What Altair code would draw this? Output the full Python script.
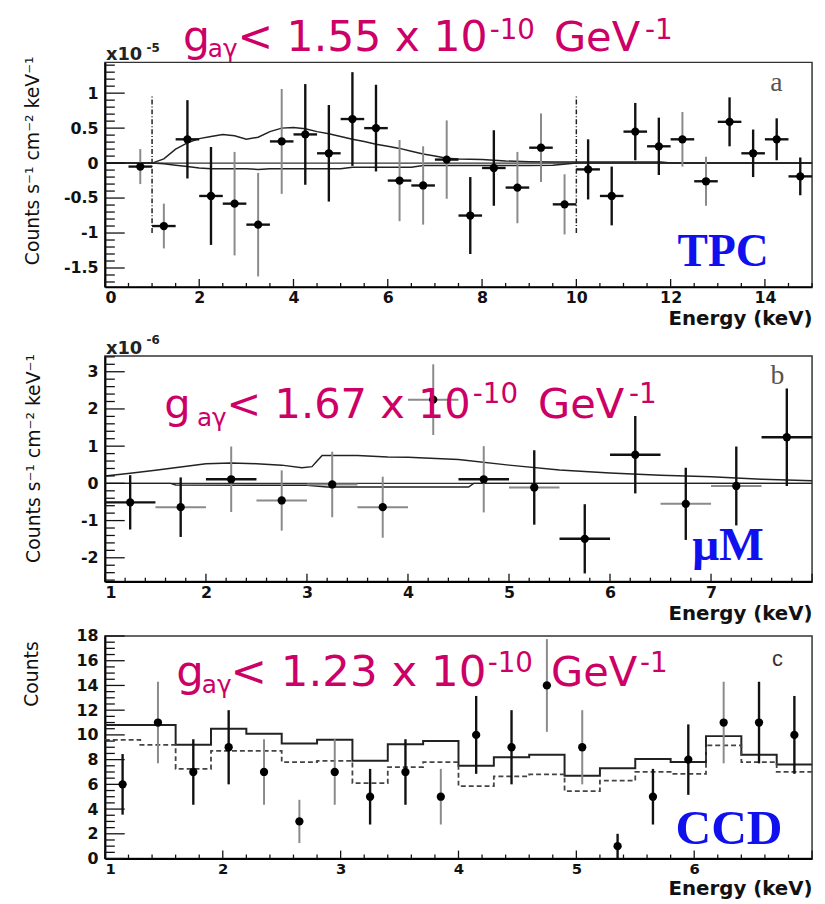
import altair as alt
import pandas as pd
import numpy as np

W = 715
H_A, H_B, H_C = 227, 228, 225
GAP_AB, GAP_BC = 70, 55

SANS = "DejaVu Sans"
SERIF = "Liberation Serif"
MAGENTA = "#cc0066"
BLUE = "#1010ee"
DARK = "#111111"
GRAY = "#8a8a8a"

# ---------------- Panel a : TPC (units 1e-5 counts s-1 cm-2 keV-1) ----------------
a_x = [0.75, 1.25, 1.75, 2.25, 2.75, 3.25, 3.75, 4.25, 4.75, 5.25, 5.75, 6.25, 6.75, 7.25,
       7.75, 8.25, 8.75, 9.25, 9.75, 10.25, 10.75, 11.25, 11.75, 12.25, 12.75, 13.25, 13.75,
       14.25, 14.75]
a_y = [-0.05, -0.90, 0.34, -0.47, -0.58, -0.88, 0.31, 0.41, 0.14, 0.63, 0.50, -0.25, -0.32, 0.05,
       -0.75, -0.07, -0.35, 0.22, -0.59, -0.09, -0.47, 0.45, 0.24, 0.34, -0.26, 0.59, 0.14,
       0.34, -0.19]
a_err = [0.25, 0.32, 0.56, 0.70, 0.74, 0.74, 0.75, 0.72, 0.69, 0.67, 0.62, 0.58, 0.56, 0.56,
         0.55, 0.54, 0.51, 0.49, 0.43, 0.43, 0.42, 0.41, 0.41, 0.39, 0.35, 0.35, 0.34, 0.30, 0.27]
a_xerr = [0.25] * 29
a_shade = list("ggddgggddddgggddgggddddggdddd")

a_model_x = [0, 1.0, 1.25, 1.5, 1.75, 2.0, 2.25, 2.5, 2.75, 3.0, 3.25, 3.5, 3.75, 4.0, 4.25, 4.5,
             4.75, 5.0, 5.25, 5.5, 5.75, 6.0, 6.25, 6.5, 6.75, 7.0, 7.25, 7.5, 8.0, 8.5, 9.0, 9.5,
             10.0, 11.8, 12.0, 15.0]
a_model_hi = [0, 0, 0.06, 0.20, 0.29, 0.35, 0.38, 0.41, 0.39, 0.34, 0.37, 0.45, 0.50, 0.51, 0.49,
              0.45, 0.42, 0.38, 0.34, 0.31, 0.27, 0.24, 0.21, 0.17, 0.13, 0.10, 0.07, 0.06, 0.05,
              0.03, 0.02, 0.015, 0.015, 0.015, 0.0, 0.0]
a_model_lo = [0, 0, -0.01, -0.03, -0.05, -0.07, -0.08, -0.08, -0.08, -0.08, -0.09, -0.08, -0.08,
              -0.08, -0.08, -0.08, -0.08, -0.08, -0.06, -0.06, -0.06, -0.06, -0.06, -0.06, -0.035,
              -0.035, -0.035, -0.035, -0.035, -0.035, -0.035, -0.03, 0.0, 0.0, 0.0, 0.0]
a_cut_x = [1.0, 10.0]
a_cut_lo = [-1.0, -1.0]
a_cut_hi = [0.97, 0.97]
a_yticks = [-1.5, -1, -0.5, 0, 0.5, 1]
a_xticks = [0, 2, 4, 6, 8, 10, 12, 14]

# ---------------- Panel b : MicroMegas (units 1e-6) ----------------
b_x = [1.25, 1.75, 2.25, 2.75, 3.25, 3.75, 4.25, 4.75, 5.25, 5.75, 6.25, 6.75, 7.25, 7.75]
b_y = [-0.51, -0.64, 0.11, -0.46, -0.03, -0.64, 2.25, 0.11, -0.11, -1.49, 0.77, -0.55, -0.07, 1.24]
b_err = [0.73, 0.80, 0.88, 0.81, 0.88, 0.82, 0.95, 0.89, 1.00, 0.93, 1.04, 0.97, 1.06, 1.31]
b_xerr = [0.25] * 14
b_vshade = list("ddggggggdddddd")
b_hshade = list("dgdggggdgddggd")
b_model_x = [1.0, 1.25, 1.5, 1.75, 2.0, 2.25, 2.5, 2.75, 2.95, 3.05, 3.1, 3.15, 3.5, 3.8, 4.0, 4.5,
             5.0, 5.5, 6.0, 6.5, 7.0, 7.5, 8.0]
b_model_hi = [0.20, 0.27, 0.35, 0.44, 0.53, 0.55, 0.53, 0.49, 0.42, 0.45, 0.60, 0.75, 0.75, 0.71,
              0.70, 0.64, 0.49, 0.36, 0.28, 0.22, 0.18, 0.11, 0.07]
b_model_lo_x = [1.0, 1.65, 1.7, 3.0, 3.2, 4.6, 4.65, 8.0]
b_model_lo = [0.0, 0.0, -0.045, -0.05, -0.10, -0.10, 0.0, 0.0]
b_yticks = [-2, -1, 0, 1, 2, 3]
b_xticks = [1, 2, 3, 4, 5, 6, 7]

# ---------------- Panel c : CCD (counts) ----------------
c_x = [1.15, 1.45, 1.75, 2.05, 2.35, 2.65, 2.95, 3.25, 3.55, 3.85, 4.15, 4.45, 4.75, 5.05, 5.35,
       5.65, 5.95, 6.25, 6.55, 6.85]
c_y = [6, 11, 7, 9, 7, 3, 7, 5, 7, 5, 10, 9, 14, 9, 1, 5, 8, 11, 11, 10]
c_err = [2.45, 3.3, 2.65, 3.0, 2.65, 1.75, 2.65, 2.25, 2.65, 2.25, 3.15, 3.0, 3.75, 3.0, 1.0,
         2.25, 2.85, 3.3, 3.3, 3.15]
c_shade = list("dgddgggddgddggdddgdd")
c_edges = [1.0, 1.3, 1.6, 1.9, 2.2, 2.5, 2.8, 3.1, 3.4, 3.7, 4.0, 4.3, 4.6, 4.9, 5.2, 5.5, 5.8,
           6.1, 6.4, 6.7, 7.0]
c_solid = [10.8, 10.8, 9.2, 10.5, 10.1, 9.3, 9.6, 7.9, 9.25, 9.5, 7.5, 8.2, 8.4, 6.7, 7.3, 8.05,
           7.8, 9.9, 8.4, 7.6, 7.6]
c_dashed = [9.6, 9.2, 7.25, 8.7, 8.7, 7.8, 7.9, 6.1, 7.4, 7.8, 5.85, 6.65, 6.8, 5.45, 6.3, 7.0,
            6.85, 9.15, 7.8, 7.0, 7.0]
c_yticks = [0, 2, 4, 6, 8, 10, 12, 14, 16, 18]
c_xticks = [1, 2, 3, 4, 5, 6]

shade_scale = alt.Scale(domain=["d", "g"], range=[DARK, GRAY])
width_scale = alt.Scale(domain=["d", "g"], range=[2.4, 2.0])
LABEL_EXPR = "'' + datum.value"


def txt(s, x, y, size, color, font=SANS, weight="normal", align="left"):
    return alt.Chart(pd.DataFrame({"t": [s]})).mark_text(
        align=align, baseline="alphabetic", font=font, fontSize=size,
        fontWeight=weight, color=color
    ).encode(x=alt.value(x), y=alt.value(y), text="t:N")


class Panel:
    def __init__(self, xdom, ydom, H, xvals, yvals, ytitle, ytx, yty, xty, xlab=16):
        self.H = H
        self.xs = alt.Scale(domain=xdom, nice=False, zero=False)
        self.ys = alt.Scale(domain=ydom, nice=False, zero=False)
        self.xa = alt.Axis(values=xvals, labelExpr=LABEL_EXPR, title="Energy (keV)", titleX=W,
                           titleY=xty, titleAlign="right", titleBaseline="middle", ticks=False,
                           grid=False, labelFontSize=xlab)
        self.ya = alt.Axis(values=yvals, labelExpr=LABEL_EXPR, title=ytitle, titleX=ytx,
                           titleY=yty, titleAlign="center", titleBaseline="middle", ticks=False,
                           grid=False)

    def X(self, f):
        return alt.X(f, scale=self.xs, axis=self.xa)

    def Y(self, f):
        return alt.Y(f, scale=self.ys, axis=self.ya)

    def line(self, xv, yv, **kw):
        return alt.Chart(pd.DataFrame({"x": xv, "y": yv})).mark_line(**kw).encode(
            x=self.X("x:Q"), y=self.Y("y:Q"))

    def zero(self):
        return alt.Chart(pd.DataFrame({"v": [0]})).mark_rule(color="#333", strokeWidth=1.2).encode(
            y=self.Y("v:Q"))

    def yticks(self, vals, length):
        return alt.Chart(pd.DataFrame({"v": vals})).mark_rule(color=DARK, strokeWidth=1.3).encode(
            x=alt.value(0), x2=alt.value(length), y=self.Y("v:Q"))

    def xticks(self, vals, length):
        return alt.Chart(pd.DataFrame({"v": vals})).mark_rule(color=DARK, strokeWidth=1.3).encode(
            y=alt.value(self.H), y2=alt.value(self.H - length), x=self.X("v:Q"))

    def data_layers(self, px, py, perr, vshade, pxerr=None, hshade=None):
        df = pd.DataFrame({"x": px, "y": py, "lo": np.array(py) - np.array(perr),
                           "hi": np.array(py) + np.array(perr), "vs": vshade})
        base = alt.Chart(df)
        layers = [base.mark_rule().encode(
            x=self.X("x:Q"), y=self.Y("lo:Q"), y2="hi:Q",
            color=alt.Color("vs:N", scale=shade_scale, legend=None),
            strokeWidth=alt.StrokeWidth("vs:N", scale=width_scale, legend=None))]
        if pxerr is not None:
            dh = pd.DataFrame({"y": py, "xlo": np.array(px) - np.array(pxerr),
                               "xhi": np.array(px) + np.array(pxerr), "hs": hshade})
            layers.append(alt.Chart(dh).mark_rule().encode(
                y=self.Y("y:Q"), x=self.X("xlo:Q"), x2="xhi:Q",
                color=alt.Color("hs:N", scale=shade_scale, legend=None),
                strokeWidth=alt.StrokeWidth("hs:N", scale=width_scale, legend=None)))
        layers.append(base.mark_circle(size=70, color="black", opacity=1).encode(
            x=self.X("x:Q"), y=self.Y("y:Q")))
        return layers


def minors(lo, hi, step, majors):
    vals = np.round(np.arange(lo, hi + 1e-9, step), 4)
    return [float(v) for v in vals if not any(abs(v - m) < 1e-6 for m in majors)]


def gcoupling(value, pos, main=42):
    gx, gy, sx, sy, mx, px, py, ex, p2 = pos
    return [
        txt("g", gx, gy, main, MAGENTA),
        txt("a\u03b3", sx, sy, 25, MAGENTA),
        txt("< " + value + " x 10", mx, gy, main, MAGENTA),
        txt("-10", px, py, 28, MAGENTA),
        txt("GeV", ex, gy, 42, MAGENTA),
        txt("-1", p2, py, 28, MAGENTA),
    ]


YT = "Counts s\u207b\u00b9 cm\u207b\u00b2 keV\u207b\u00b9"

# ----- panel a -----
P = Panel([0, 15], [-1.77, 1.44], H_A, a_xticks, a_yticks, YT, -73, 99, 32)
cut = alt.Chart(pd.DataFrame({"x": a_cut_x, "lo": a_cut_lo, "hi": a_cut_hi})).mark_rule(
    color="#222", strokeWidth=1.5, strokeDash=[5, 2, 1, 2]).encode(
    x=P.X("x:Q"), y=P.Y("lo:Q"), y2="hi:Q")
la = [P.zero(), P.line(a_model_x, a_model_hi, color="#222", strokeWidth=1.5),
      P.line(a_model_x, a_model_lo, color="#222", strokeWidth=1.5), cut,
      P.yticks(a_yticks, 20), P.yticks(minors(-1.7, 1.4, 0.1, a_yticks), 10),
      P.xticks(a_xticks, 8), P.xticks(minors(0, 15, 0.5, a_xticks), 4)]
la += P.data_layers(a_x, a_y, a_err, a_shade, a_xerr, ["d"] * 29)
la += gcoupling("1.55", (79, -12, 104, -5, 134, 389, -24, 454, 546), main=43)
la += [txt("x10", 1, -2, 18, "#222", weight="bold"), txt("-5", 42, -11, 12, "#222", weight="bold"),
       txt("a", 679, 29, 28, "#555", font=SERIF, align="center"),
       txt("TPC", 625, 206, 46, BLUE, font=SERIF, weight="bold", align="center")]
pa = alt.layer(*la).properties(width=W, height=H_A)

# ----- panel b -----
P = Panel([1, 8], [-2.64, 3.42], H_B, b_xticks, b_yticks, YT, -72, 103, 32)
lb = [P.zero(), P.line(b_model_x, b_model_hi, color="#222", strokeWidth=1.5),
      P.line(b_model_lo_x, b_model_lo, color="#222", strokeWidth=1.5),
      P.yticks(b_yticks, 20), P.yticks(minors(-2.6, 3.4, 0.2, b_yticks), 10),
      P.xticks(b_xticks + [8], 8), P.xticks(minors(1, 8, 0.2, b_xticks + [8]), 4)]
lb += P.data_layers(b_x, b_y, b_err, b_vshade, b_xerr, b_hshade)
lb += gcoupling("1.67", (60, 63, 93, 71, 123, 372, 47, 438, 530))
lb += [txt("x10", 1, -2, 18, "#222", weight="bold"), txt("-6", 42, -12, 12, "#222", weight="bold"),
       txt("b", 680, 28, 28, "#555", font=SERIF, align="center"),
       txt("\u03bcM", 630, 206, 48, BLUE, font=SERIF, weight="bold", align="center")]
pb = alt.layer(*lb).properties(width=W, height=H_B)

# ----- panel c -----
P = Panel([1, 7], [0, 18], H_C, c_xticks, c_yticks, "Counts", -74, 38, 30, xlab=15)
lc = [P.line(c_edges, c_solid, color="#222", strokeWidth=2, interpolate="step-after"),
      P.line(c_edges, c_dashed, color="#444", strokeWidth=1.8, strokeDash=[5, 3],
             interpolate="step-after"),
      P.yticks(c_yticks, 20), P.yticks(minors(0, 18, 0.5, c_yticks), 10),
      P.xticks(c_xticks + [7], 8), P.xticks(minors(1, 7, 0.2, c_xticks + [7]), 4)]
lc += P.data_layers(c_x, c_y, c_err, c_shade)
lc += gcoupling("1.23", (72, 51, 98, 58, 127, 387, 36, 451, 541), main=44)
lc += [txt("c", 680, 30, 22, "#333", font="Liberation Sans", align="center"),
       txt("CCD", 631, 210, 50, BLUE, font=SERIF, weight="bold", align="center")]
pc = alt.layer(*lc).properties(width=W, height=H_C)


def spacer(h):
    return alt.Chart(pd.DataFrame({"z": [0]})).mark_point(opacity=0).encode(
        x=alt.X("z:Q", axis=None), y=alt.Y("z:Q", axis=None)
    ).properties(width=W, height=h, view=alt.ViewBackground(stroke="transparent"))


chart = alt.vconcat(pa, spacer(GAP_AB), pb, spacer(GAP_BC), pc, spacing=0, bounds="flush").properties(
    padding={"left": 14, "top": 3, "right": 0, "bottom": 0}, background="white"
).configure_view(stroke="#333", strokeWidth=1.5).configure_axis(
    domainColor="black", domainWidth=2, labelFont=SANS, labelFontWeight="bold", labelFontSize=16,
    labelColor="#111", titleFont=SANS, titleColor="#111", grid=False, ticks=False, tickSize=0
).configure_axisX(labelPadding=3, titleFontWeight="bold", titleFontSize=20).configure_axisY(
    labelPadding=7, titleFontWeight="normal", titleFontSize=19)

chart.save("out.html", embed_options={"renderer": "svg", "actions": False})
